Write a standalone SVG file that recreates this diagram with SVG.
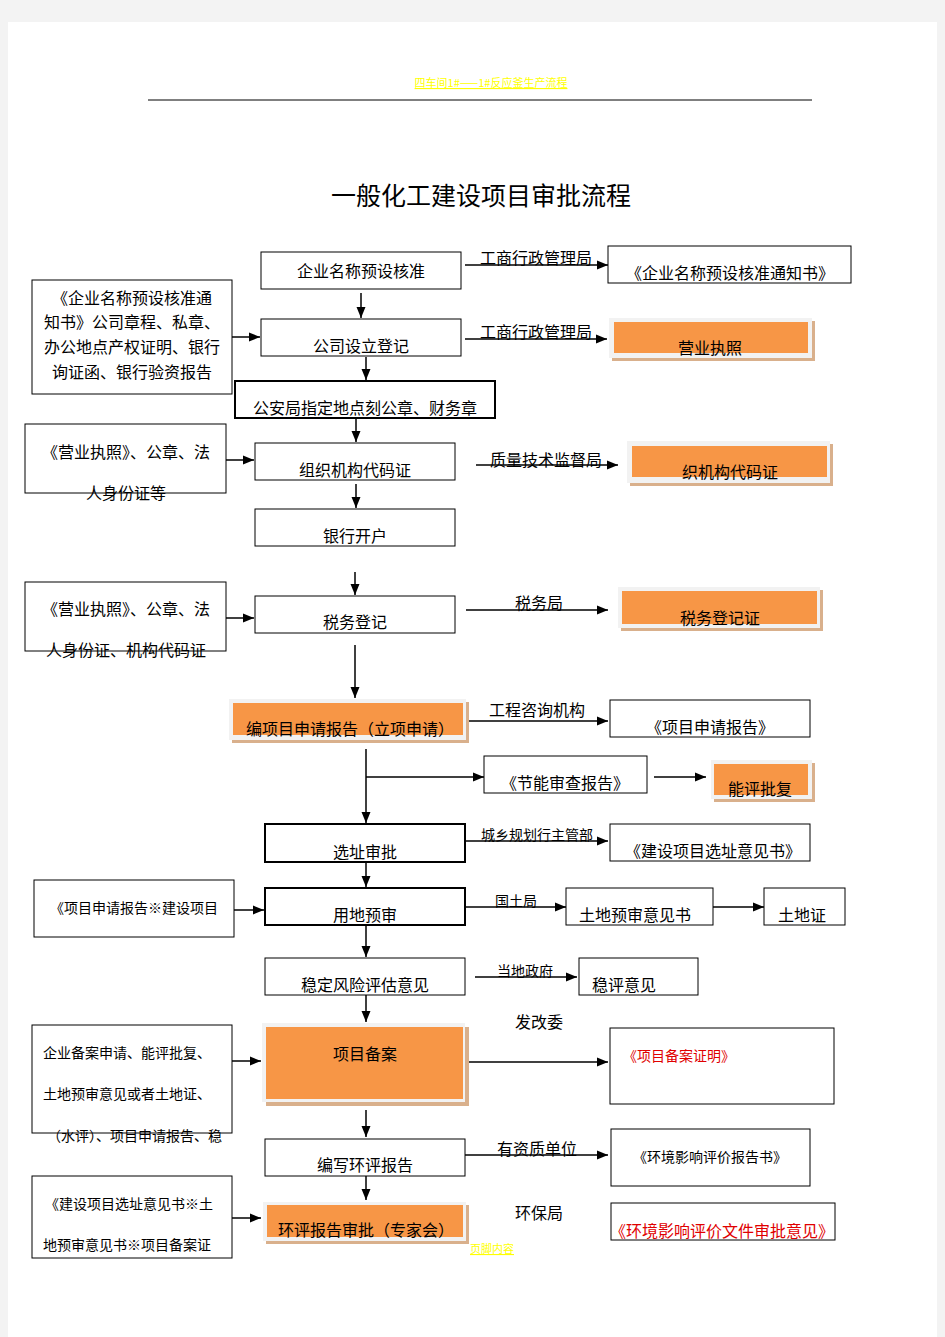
<svg xmlns="http://www.w3.org/2000/svg" width="945" height="1337" viewBox="0 0 945 1337">
<defs>
<marker id="ah" markerUnits="userSpaceOnUse" markerWidth="12" markerHeight="10" refX="11" refY="5" orient="auto"><path d="M0,0.5 L11,5 L0,9.5 z" fill="#000"/></marker>
<style>
text{font-family:"Noto Sans CJK SC","Liberation Sans",sans-serif;font-size:16px;fill:#000}
.c{text-anchor:middle}
.s{font-size:14px}
.t{font-size:25px}
.r{fill:#e00000}
.y{fill:#ffff00;font-size:11px;text-decoration:underline}
.b{fill:#fff;stroke:#000;stroke-width:1}
.bb{fill:#fff;stroke:#000;stroke-width:2}
.sh{fill:#d9b08c}
.fr{fill:#f2f2f2}
.or{fill:#f79646}
.la{stroke:#000;stroke-width:1.5;fill:none;marker-end:url(#ah)}
</style>
</defs>
<rect x="0" y="0" width="945" height="1337" fill="#f3f3f3"/>
<rect x="8" y="22" width="929" height="1315" fill="#fff"/>
<text class="y c" x="491" y="87">四车间1#——1#反应釜生产流程</text>
<line x1="148" y1="100" x2="812" y2="100" stroke="#000" stroke-width="1"/>
<text class="t c" x="481" y="205">一般化工建设项目审批流程</text>

<g id="connectors">
<line class="la" x1="361" y1="293" x2="361" y2="318"/>
<line class="la" x1="465" y1="265" x2="608" y2="265"/>
<line class="la" x1="232" y1="337" x2="260" y2="337"/>
<line class="la" x1="465" y1="339" x2="607" y2="339"/>
<line class="la" x1="366" y1="357" x2="366" y2="380"/>
<line class="la" x1="356" y1="418" x2="356" y2="442"/>
<line class="la" x1="226" y1="460" x2="254" y2="460"/>
<line class="la" x1="476" y1="465" x2="618" y2="465"/>
<line class="la" x1="356" y1="484" x2="356" y2="508"/>
<line class="la" x1="355" y1="572" x2="355" y2="595"/>
<line class="la" x1="226" y1="618" x2="254" y2="618"/>
<line class="la" x1="466" y1="610" x2="608" y2="610"/>
<line class="la" x1="355" y1="645" x2="355" y2="698"/>
<line class="la" x1="469" y1="721" x2="608" y2="721"/>
<line class="la" x1="366" y1="749" x2="366" y2="823"/>
<line class="la" x1="366" y1="777" x2="484" y2="777"/>
<line class="la" x1="654" y1="777" x2="706" y2="777"/>
<line class="la" x1="465" y1="841" x2="608" y2="841"/>
<line class="la" x1="366" y1="862" x2="366" y2="887"/>
<line class="la" x1="234" y1="910" x2="264" y2="910"/>
<line class="la" x1="465" y1="907" x2="566" y2="907"/>
<line class="la" x1="713" y1="907" x2="764" y2="907"/>
<line class="la" x1="366" y1="925" x2="366" y2="957"/>
<line class="la" x1="475" y1="977" x2="577" y2="977"/>
<line class="la" x1="366" y1="995" x2="366" y2="1022"/>
<line class="la" x1="232" y1="1061" x2="261" y2="1061"/>
<line class="la" x1="465" y1="1062" x2="608" y2="1062"/>
<line class="la" x1="366" y1="1110" x2="366" y2="1137"/>
<line class="la" x1="465" y1="1155" x2="608" y2="1155"/>
<line class="la" x1="366" y1="1176" x2="366" y2="1200"/>
<line class="la" x1="232" y1="1218" x2="261" y2="1218"/>
<text x="480" y="264">工商行政管理局</text>
<text x="480" y="338">工商行政管理局</text>
<text x="490" y="466">质量技术监督局</text>
<text class="c" x="539" y="609">税务局</text>
<text x="489" y="716">工程咨询机构</text>
<text class="s" x="481" y="840">城乡规划行主管部</text>
<text class="s" x="495" y="906">国土局</text>
<text class="s" x="497" y="976">当地政府</text>
<text class="c" x="539" y="1028">发改委</text>
<text x="497" y="1155">有资质单位</text>
<text class="c" x="539" y="1219">环保局</text>
</g>

<g id="n1"><rect class="b" x="261" y="252" width="200" height="37"/><text class="c" x="361" y="277">企业名称预设核准</text></g>
<g id="n1r"><rect class="b" x="608" y="246" width="243" height="37"/><text class="c" x="730" y="279">《企业名称预设核准通知书》</text></g>
<g id="n2l"><rect class="b" x="32" y="280" width="200" height="114"/>
<text class="c" x="132" y="304">《企业名称预设核准通</text>
<text class="c" x="132" y="328">知书》公司章程、私章、</text>
<text class="c" x="132" y="353">办公地点产权证明、银行</text>
<text class="c" x="132" y="378">询证函、银行验资报告</text></g>
<g id="n2"><rect class="b" x="261" y="319" width="200" height="37"/><text class="c" x="361" y="352">公司设立登记</text></g>
<g id="n2r"><rect class="sh" x="612" y="321" width="203" height="40"/><rect class="fr" x="609" y="318" width="203" height="40"/><rect class="or" x="614" y="322" width="194" height="31"/><text class="c" x="710" y="354">营业执照</text></g>
<g id="n3"><rect class="bb" x="235" y="381" width="260" height="37"/><text class="c" x="365" y="414">公安局指定地点刻公章、财务章</text></g>
<g id="n4l"><rect class="b" x="25" y="424" width="201" height="69"/>
<text class="c" x="126" y="458">《营业执照》、公章、法</text>
<text class="c" x="126" y="499">人身份证等</text></g>
<g id="n4"><rect class="b" x="255" y="443" width="200" height="37"/><text class="c" x="355" y="476">组织机构代码证</text></g>
<g id="n4r"><rect class="sh" x="630" y="444" width="203" height="42"/><rect class="fr" x="627" y="441" width="203" height="42"/><rect class="or" x="632" y="446" width="195" height="31"/><text class="c" x="730" y="478">织机构代码证</text></g>
<g id="n5"><rect class="b" x="255" y="509" width="200" height="37"/><text class="c" x="355" y="542">银行开户</text></g>
<g id="n6l"><rect class="b" x="25" y="582" width="201" height="69"/>
<text class="c" x="126" y="615">《营业执照》、公章、法</text>
<text class="c" x="126" y="656">人身份证、机构代码证</text></g>
<g id="n6"><rect class="b" x="255" y="596" width="200" height="37"/><text class="c" x="355" y="628">税务登记</text></g>
<g id="n6r"><rect class="sh" x="621" y="590" width="202" height="41"/><rect class="fr" x="618" y="587" width="202" height="41"/><rect class="or" x="622" y="591" width="195" height="33"/><text class="c" x="720" y="624">税务登记证</text></g>
<g id="n7"><rect class="sh" x="232" y="702" width="237" height="41"/><rect class="fr" x="229" y="699" width="237" height="41"/><rect class="or" x="233" y="703" width="230" height="32"/><text x="246" y="735">编项目申请报告（立项申请）</text></g>
<g id="n7r"><rect class="b" x="610" y="700" width="200" height="37"/><text class="c" x="710" y="733">《项目申请报告》</text></g>
<g id="n8"><rect class="b" x="484" y="756" width="163" height="37"/><text class="c" x="565" y="789">《节能审查报告》</text></g>
<g id="n8r"><rect class="sh" x="714" y="763" width="101" height="39"/><rect class="fr" x="711" y="760" width="101" height="39"/><rect class="or" x="714" y="764" width="94" height="31"/><text class="c" x="760" y="795">能评批复</text></g>
<g id="n9"><rect class="bb" x="265" y="824" width="200" height="38"/><text class="c" x="365" y="858">选址审批</text></g>
<g id="n9r"><rect class="b" x="610" y="824" width="200" height="37"/><text class="c" x="713" y="857">《建设项目选址意见书》</text></g>
<g id="n10l"><rect class="b" x="34" y="880" width="200" height="57"/><text class="s c" x="134" y="913">《项目申请报告※建设项目</text></g>
<g id="n10"><rect class="bb" x="265" y="888" width="200" height="37"/><text class="c" x="365" y="921">用地预审</text></g>
<g id="n10r"><rect class="b" x="566" y="888" width="147" height="37"/><text x="579" y="921">土地预审意见书</text></g>
<g id="n10rr"><rect class="b" x="764" y="888" width="81" height="37"/><text x="778" y="921">土地证</text></g>
<g id="n11"><rect class="b" x="265" y="958" width="200" height="37"/><text class="c" x="365" y="991">稳定风险评估意见</text></g>
<g id="n11r"><rect class="b" x="579" y="958" width="119" height="37"/><text x="592" y="991">稳评意见</text></g>
<g id="n12l"><rect class="b" x="32" y="1025" width="200" height="108"/>
<text class="s" x="43" y="1058">企业备案申请、能评批复、</text>
<text class="s" x="43" y="1099">土地预审意见或者土地证、</text>
<text class="s" x="47" y="1141">（水评）、项目申请报告、稳</text></g>
<g id="n12"><rect class="sh" x="266" y="1027" width="203" height="79"/><rect class="fr" x="262" y="1023" width="203" height="79"/><rect class="or" x="266" y="1027" width="197" height="72"/><text class="c" x="365" y="1060">项目备案</text></g>
<g id="n12r"><rect class="b" x="610" y="1028" width="224" height="76"/><text class="s r" x="623" y="1061">《项目备案证明》</text></g>
<g id="n13"><rect class="b" x="265" y="1139" width="200" height="37"/><text class="c" x="365" y="1171">编写环评报告</text></g>
<g id="n13r"><rect class="b" x="611" y="1129" width="199" height="57"/><text class="s c" x="710" y="1162">《环境影响评价报告书》</text></g>
<g id="n14l"><rect class="b" x="32" y="1176" width="200" height="82"/>
<text class="s" x="45" y="1209">《建设项目选址意见书※土</text>
<text class="s" x="43" y="1250">地预审意见书※项目备案证</text></g>
<g id="n14"><rect class="sh" x="266" y="1205" width="203" height="39"/><rect class="fr" x="263" y="1202" width="203" height="39"/><rect class="or" x="267" y="1205" width="196" height="32"/><text class="c" x="366" y="1236">环评报告审批（专家会）</text></g>
<g id="n14r"><rect class="b" x="611" y="1203" width="224" height="37"/><text class="r c" x="722" y="1237">《环境影响评价文件审批意见》</text></g>
<text class="y" x="470" y="1253">页脚内容</text>
</svg>
